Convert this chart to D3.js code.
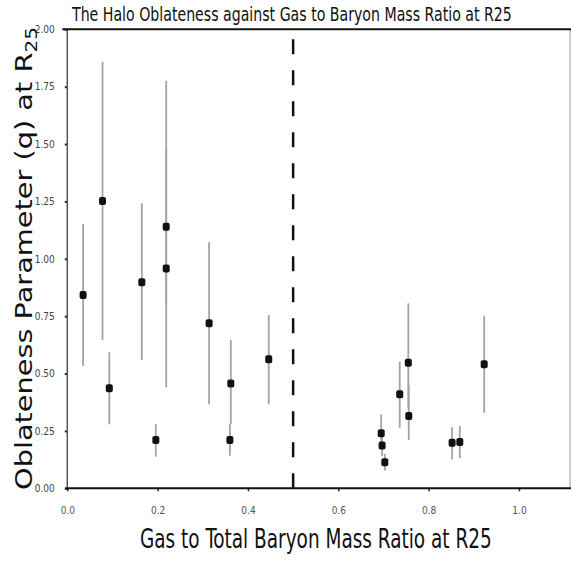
<!DOCTYPE html>
<html>
<head>
<meta charset="utf-8">
<script src="https://cdn.jsdelivr.net/npm/d3@7"></script>
<style>
  html, body { margin: 0; padding: 0; background: #fff; }
  svg { display: block; }
  .cond { font-family: "DejaVu Sans Condensed", "DejaVu Sans", sans-serif; font-stretch: condensed; }
</style>
</head>
<body>
<svg id="chart" width="571" height="561"></svg>
<script>
// Gas fraction at R25 for each galaxy and its fitted halo oblateness q with error range
const gasRatio = [0.035, 0.078, 0.093, 0.165, 0.196, 0.219, 0.219, 0.314, 0.362, 0.360, 0.446,
                  0.695, 0.697, 0.703, 0.736, 0.755, 0.756, 0.852, 0.869, 0.923];
const qValue   = [0.842, 1.252, 0.436, 0.898, 0.210, 1.140, 0.958, 0.719, 0.457, 0.210, 0.562,
                  0.240, 0.186, 0.113, 0.410, 0.547, 0.315, 0.199, 0.202, 0.540];
const qLower   = [0.533, 0.646, 0.279, 0.559, 0.138, 0.800, 0.440, 0.366, 0.279, 0.142, 0.366,
                  0.170, 0.140, 0.077, 0.264, 0.350, 0.210, 0.126, 0.131, 0.329];
const qUpper   = [1.152, 1.859, 0.593, 1.242, 0.280, 1.477, 1.776, 1.072, 0.646, 0.279, 0.755,
                  0.322, 0.230, 0.150, 0.552, 0.806, 0.450, 0.266, 0.271, 0.751];

const xTicks = [0.0, 0.2, 0.4, 0.6, 0.8, 1.0];
const yTicks = [0.00, 0.25, 0.50, 0.75, 1.00, 1.25, 1.50, 1.75, 2.00];
const divide = 0.5;

const svg = d3.select("#chart");
const plotLeft = 67.3, plotRight = 570, plotTop = 29.3, plotBottom = 488.3;

const x = d3.scaleLinear().domain([0, 1.113]).range([plotLeft, plotRight]);
const y = d3.scaleLinear().domain([0, 2]).range([plotBottom, plotTop]);

// axes
const xAxis = svg.append("g").attr("transform", `translate(0,${plotBottom})`)
  .call(d3.axisBottom(x).tickValues(xTicks).tickFormat(d3.format(".1f")).tickSize(3).tickPadding(16));
xAxis.select(".domain").remove();
xAxis.selectAll(".tick line").attr("stroke", "#222").attr("stroke-width", 1.5);
xAxis.selectAll(".tick text").attr("class", "cond").attr("font-size", 10).attr("fill", "#555");

const yAxis = svg.append("g").attr("transform", `translate(${plotLeft},0)`)
  .call(d3.axisLeft(y).tickValues(yTicks).tickFormat(d3.format(".2f")).tickSize(2.5).tickPadding(10));
yAxis.select(".domain").remove();
yAxis.selectAll(".tick line").attr("stroke", "#222").attr("stroke-width", 2);
yAxis.selectAll(".tick text").attr("class", "cond").attr("font-size", 10).attr("fill", "#444");

// frame
svg.append("line").attr("x1", plotLeft).attr("x2", plotLeft).attr("y1", plotTop).attr("y2", plotBottom)
  .attr("stroke", "#555").attr("stroke-width", 1.5);
svg.append("line").attr("x1", plotRight).attr("x2", plotRight).attr("y1", plotTop).attr("y2", plotBottom)
  .attr("stroke", "#999").attr("stroke-width", 1);
svg.append("line").attr("x1", plotLeft - 5).attr("x2", 571).attr("y1", plotTop).attr("y2", plotTop)
  .attr("stroke", "#111").attr("stroke-width", 2);
svg.append("line").attr("x1", plotLeft - 2).attr("x2", 571).attr("y1", plotBottom).attr("y2", plotBottom)
  .attr("stroke", "#111").attr("stroke-width", 2);

// dividing line between gas-poor and gas-rich galaxies
svg.append("line")
  .attr("x1", x(divide)).attr("x2", x(divide))
  .attr("y1", y(0)).attr("y2", y(2))
  .attr("stroke", "#111").attr("stroke-width", 2.5)
  .attr("stroke-dasharray", "15,16");

// error bars
const idx = d3.range(gasRatio.length);
svg.append("g").selectAll("line").data(idx).join("line")
  .attr("x1", i => x(gasRatio[i])).attr("x2", i => x(gasRatio[i]))
  .attr("y1", i => y(qLower[i])).attr("y2", i => y(qUpper[i]))
  .attr("stroke", "#a3a3a3").attr("stroke-width", 1.8);

// points
svg.append("g").selectAll("rect").data(idx).join("rect")
  .attr("x", i => x(gasRatio[i]) - 3.5).attr("y", i => y(qValue[i]) - 4)
  .attr("width", 7).attr("height", 8).attr("rx", 2)
  .attr("fill", "#111");

// squeeze a label horizontally so it spans the given width
function fitLabel(g, text, width) {
  const len = text.node().getComputedTextLength();
  text.attr("transform", `scale(${width / len},1)`);
  return g;
}

const titleG = svg.append("g").attr("transform", "translate(72,20.5)");
fitLabel(titleG, titleG.append("text").attr("class", "cond")
  .attr("font-size", 20).attr("fill", "#111")
  .text("The Halo Oblateness against Gas to Baryon Mass Ratio at R25"), 440);

const xLabG = svg.append("g").attr("transform", "translate(140,548)");
fitLabel(xLabG, xLabG.append("text").attr("class", "cond")
  .attr("font-size", 27).attr("fill", "#111")
  .text("Gas to Total Baryon Mass Ratio at R25"), 352);

const yLabG = svg.append("g").attr("transform", "translate(32,490) rotate(-90)");
const yl = yLabG.append("text")
  .attr("font-family", "DejaVu Sans, sans-serif")
  .attr("font-size", 23).attr("fill", "#111");
yl.append("tspan").text("Oblateness Parameter (q) at R");
yl.append("tspan").attr("font-size", 16).attr("dy", 5).text("25");
fitLabel(yLabG, yl, 463);
</script>
</body>
</html>
